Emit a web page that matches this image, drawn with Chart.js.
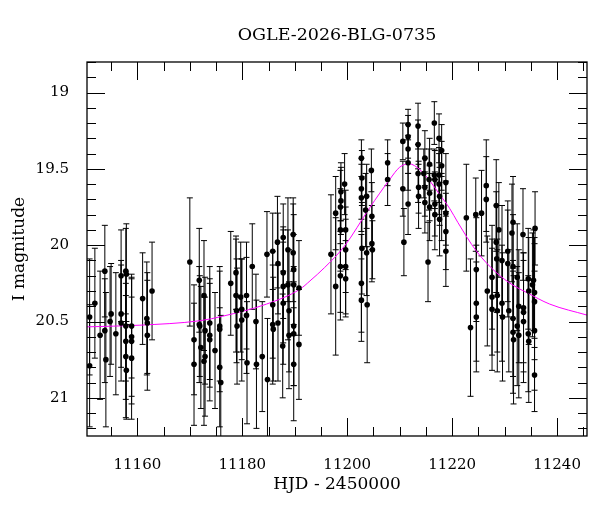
<!DOCTYPE html>
<html>
<head>
<meta charset="utf-8">
<script src="https://cdn.jsdelivr.net/npm/chart.js@4.4.1/dist/chart.umd.min.js"></script>
<style>
  body { margin: 0; background: #fff; }
  canvas { display: block; }
</style>
</head>
<body>
<canvas id="lightCurve" width="600" height="512"></canvas>
<script>
// photometry (HJD - 2450000, I mag, 1 sigma)
const hjd = [
    11150.9, 11150.9, 11151.9, 11152.9, 11153.8, 11153.8, 11154.0, 11154.8, 11155.0, 11155.9, 11156.9, 11156.9, 11156.9, 11157.8, 11157.9, 11157.8, 11157.8, 11157.8, 11157.9, 11158.9, 11158.9, 11158.9, 11158.9, 11161.0, 11161.8, 11161.9, 11161.9, 11162.8,
    11170.0, 11170.8, 11170.8, 11171.8, 11171.8, 11171.9, 11172.1, 11172.7, 11172.7, 11172.9, 11172.9, 11173.8, 11173.8, 11173.8, 11174.8, 11175.7, 11175.7, 11175.7, 11175.9, 11177.8, 11178.8, 11178.8, 11178.9, 11179.0, 11179.7, 11179.9, 11179.9, 11180.8, 11180.8, 11180.9, 11181.9, 11182.6, 11182.7, 11183.8, 11184.7, 11184.8, 11185.8, 11185.8, 11185.8, 11185.9, 11186.7, 11186.8, 11186.8, 11187.8, 11187.8, 11187.8, 11187.8, 11187.7, 11188.7, 11188.7, 11188.9, 11188.9, 11189.7, 11189.7, 11189.8, 11189.8, 11189.8, 11189.8, 11189.8, 11190.8, 11190.8,
    11196.9, 11197.8, 11197.8, 11198.8, 11198.8, 11198.7, 11198.7, 11198.7, 11198.7, 11199.5, 11199.7, 11199.7, 11199.7, 11199.7, 11202.7, 11202.8, 11202.7, 11202.7, 11203.7, 11203.5, 11202.8, 11203.7, 11202.7, 11202.7, 11203.8, 11204.6, 11204.7, 11204.7, 11204.8, 11207.7, 11207.7,
    11210.6, 11210.6, 11210.8, 11211.6, 11211.6, 11211.6, 11211.6, 11211.6, 11213.5, 11213.5, 11213.5, 11213.6, 11213.6, 11214.8, 11214.6, 11214.8, 11214.8, 11215.4, 11215.7, 11215.6, 11215.7, 11215.7, 11216.6, 11216.6, 11216.7, 11216.7, 11216.7, 11217.5, 11217.5, 11217.5, 11217.6, 11217.6,
    11218.0, 11218.0, 11218.0, 11218.8, 11218.8, 11218.8, 11218.8, 11222.7, 11224.5, 11225.6,
    11223.5, 11224.6, 11224.6, 11224.6, 11226.5, 11226.5, 11226.7, 11227.6, 11227.6, 11227.6, 11228.4, 11228.4, 11228.5, 11228.6, 11228.6, 11228.9, 11229.5, 11229.5, 11229.6, 11230.6, 11230.6, 11230.8, 11231.6, 11231.4, 11231.6, 11231.6, 11231.6, 11231.7, 11232.4, 11232.4, 11232.7, 11232.7, 11233.5, 11233.6, 11233.6, 11233.6, 11234.5, 11234.6, 11234.5, 11234.6, 11235.3, 11235.5, 11235.7, 11235.7, 11235.8, 11235.7, 11235.7
];
const mag = [
    20.47, 20.79, 20.38, 20.59, 20.17, 20.56, 20.75, 20.50, 20.45, 20.58, 20.20, 20.45, 20.51, 20.17, 20.19, 20.53, 20.63, 20.73, 20.82, 20.53, 20.60, 20.63, 20.74, 20.35, 20.48, 20.51, 20.59, 20.30,
    20.11, 20.62, 20.78, 20.23, 20.52, 20.53, 20.67, 20.33, 20.76, 20.56, 20.73, 20.51, 20.59, 20.62, 20.69, 20.53, 20.55, 20.80, 20.90, 20.25, 20.18, 20.33, 20.43, 20.53, 20.34, 20.42, 20.49, 20.33, 20.46, 20.77, 20.14, 20.50, 20.78, 20.73, 20.06, 20.88, 20.04, 20.39, 20.52, 20.55, 19.98, 20.12, 20.51, 19.95, 20.18, 20.27, 20.38, 20.66, 20.03, 20.26, 20.43, 20.59, 19.93, 20.05, 20.16, 20.26, 20.53, 20.58, 20.78, 20.28, 20.65,
    20.06, 19.79, 20.27, 19.65, 19.71, 19.75, 19.90, 20.14, 20.20, 19.60, 19.90, 20.03, 20.14, 20.22, 19.43, 19.56, 19.63, 19.69, 19.68, 19.77, 20.02, 20.05, 20.25, 20.36, 20.39, 19.51, 19.81, 19.99, 20.03, 19.46, 19.57,
    19.32, 19.63, 19.98, 19.21, 19.29, 19.37, 19.46, 19.73, 19.22, 19.34, 19.53, 19.62, 19.68, 19.43, 19.53, 19.62, 19.72, 20.11, 19.47, 19.57, 19.66, 19.75, 19.20, 19.54, 19.57, 19.73, 19.80, 19.30, 19.54, 19.60, 19.68, 19.83,
    19.38, 19.48, 19.75, 19.59, 19.79, 19.91, 20.04, 19.82, 19.80, 19.79,
    20.54, 20.16, 20.38, 20.47, 19.61, 19.70, 20.30, 20.21, 20.34, 20.42, 19.74, 19.98, 20.09, 20.33, 20.43, 19.90, 20.10, 20.38, 20.47, 20.04, 20.12, 20.43, 19.85, 19.92, 20.14, 20.48, 20.57, 20.62, 20.21, 20.53, 20.59, 20.40, 19.93, 20.41, 20.44, 20.50, 20.22, 20.30, 20.58, 20.63, 20.26, 20.23, 20.31, 20.37, 19.89, 20.56, 20.85
];
const magErr = [
    0.38, 0.40, 0.36, 0.42, 0.30, 0.34, 0.44, 0.36, 0.33, 0.40, 0.30, 0.35, 0.38, 0.28, 0.33, 0.36, 0.38, 0.40, 0.32, 0.34, 0.39, 0.41, 0.40, 0.30, 0.37, 0.33, 0.36, 0.32,
    0.42, 0.36, 0.40, 0.34, 0.38, 0.33, 0.40, 0.36, 0.42, 0.35, 0.39, 0.37, 0.34, 0.40, 0.38, 0.36, 0.41, 0.39, 0.44, 0.34, 0.24, 0.37, 0.34, 0.38, 0.36, 0.33, 0.40, 0.35, 0.38, 0.40, 0.28, 0.31, 0.42, 0.36, 0.28, 0.40, 0.25, 0.35, 0.39, 0.34, 0.30, 0.33, 0.38, 0.22, 0.30, 0.37, 0.40, 0.34, 0.34, 0.36, 0.40, 0.35, 0.24, 0.32, 0.36, 0.33, 0.39, 0.34, 0.37, 0.31, 0.36,
    0.39, 0.24, 0.45, 0.19, 0.22, 0.24, 0.27, 0.30, 0.29, 0.20, 0.26, 0.28, 0.31, 0.25, 0.12, 0.18, 0.20, 0.22, 0.21, 0.24, 0.30, 0.28, 0.32, 0.27, 0.38, 0.14, 0.22, 0.25, 0.19, 0.15, 0.17,
    0.12, 0.18, 0.22, 0.10, 0.14, 0.16, 0.18, 0.20, 0.15, 0.16, 0.19, 0.17, 0.21, 0.18, 0.16, 0.19, 0.20, 0.26, 0.17, 0.20, 0.18, 0.22, 0.14, 0.17, 0.19, 0.21, 0.23, 0.16, 0.18, 0.20, 0.19, 0.24,
    0.17, 0.16, 0.22, 0.19, 0.21, 0.25, 0.23, 0.35, 0.24, 0.28,
    0.45, 0.34, 0.38, 0.36, 0.30, 0.28, 0.36, 0.34, 0.38, 0.40, 0.30, 0.33, 0.35, 0.37, 0.40, 0.31, 0.36, 0.38, 0.42, 0.33, 0.35, 0.40, 0.30, 0.32, 0.34, 0.38, 0.40, 0.42, 0.35, 0.39, 0.41, 0.37, 0.30, 0.36, 0.39, 0.40, 0.33, 0.35, 0.38, 0.40, 0.34, 0.33, 0.36, 0.38, 0.24, 0.39, 0.24
];

// model light curve (magenta), sampled from the plot
const modelHjd = [11150.4, 11160.5, 11171.9, 11176.3, 11184.6, 11191.0, 11192.9, 11195.7, 11199.5, 11204.3, 11208.1, 11210.0, 11211.8, 11213.8, 11215.7, 11217.6, 11219.5, 11221.1, 11224.6, 11228.4, 11231.6, 11234.2, 11238.6, 11245.7];
const modelMag = [20.535, 20.524, 20.495, 20.465, 20.386, 20.288, 20.234, 20.146, 20.005, 19.754, 19.569, 19.489, 19.467, 19.504, 19.577, 19.667, 19.758, 19.852, 20.038, 20.179, 20.262, 20.31, 20.386, 20.458];

const xTicks = [11160, 11180, 11200, 11220, 11240];
const yTicks = [19, 19.5, 20, 20.5, 21];

const FONT = "'DejaVu Serif', 'Liberation Serif', serif";

function toPoints(xs, ys) {
    return xs.map((v, i) => ({ x: v, y: ys[i] }));
}

// vertical error bars with little caps, drawn under the dots
const errorBars = {
    id: 'errorBars',
    beforeDatasetsDraw(chart) {
        const { ctx, chartArea, scales: { x, y } } = chart;
        ctx.save();
        ctx.beginPath();
        ctx.rect(chartArea.left, chartArea.top, chartArea.width, chartArea.height);
        ctx.clip();
        ctx.strokeStyle = '#000';
        ctx.lineWidth = 1;
        ctx.beginPath();
        for (let i = 0; i < hjd.length; i++) {
            const px = x.getPixelForValue(hjd[i]);
            const top = y.getPixelForValue(mag[i] - magErr[i]);
            const bot = y.getPixelForValue(mag[i] + magErr[i]);
            ctx.moveTo(px, top);
            ctx.lineTo(px, bot);
            ctx.moveTo(px - 3, top);
            ctx.lineTo(px + 3, top);
            ctx.moveTo(px - 3, bot);
            ctx.lineTo(px + 3, bot);
        }
        ctx.stroke();
        ctx.restore();
    }
};

// box frame with inward ticks on all four sides
const frameTicks = {
    id: 'frameTicks',
    afterDraw(chart) {
        const { ctx, chartArea: a, scales: { x, y } } = chart;
        ctx.save();
        ctx.strokeStyle = '#000';
        ctx.lineWidth = 1;
        ctx.beginPath();
        for (let v = Math.ceil(x.min / 5) * 5; v <= x.max; v += 5) {
            const len = xTicks.includes(v) ? 18 : 9;
            const px = Math.round(x.getPixelForValue(v)) + 0.5;
            ctx.moveTo(px, a.bottom);
            ctx.lineTo(px, a.bottom - len);
            ctx.moveTo(px, a.top);
            ctx.lineTo(px, a.top + len);
        }
        for (let k = Math.ceil(y.min * 10); k <= Math.floor(y.max * 10); k++) {
            const v = k / 10;
            const len = yTicks.includes(v) ? 18 : 9;
            const py = Math.round(y.getPixelForValue(v)) + 0.5;
            ctx.moveTo(a.left, py);
            ctx.lineTo(a.left + len, py);
            ctx.moveTo(a.right, py);
            ctx.lineTo(a.right - len, py);
        }
        ctx.stroke();
        ctx.lineWidth = 1.3;
        ctx.strokeRect(a.left, a.top, a.right - a.left, a.bottom - a.top);
        ctx.restore();
    }
};

const ctx = document.getElementById('lightCurve').getContext('2d');
const lightCurve = new Chart(ctx, {
    type: 'scatter',
    data: {
        datasets: [{
            type: 'line',
            data: toPoints(modelHjd, modelMag),
            borderColor: '#ff00ff',
            borderWidth: 1,
            pointRadius: 0,
            fill: false,
            cubicInterpolationMode: 'monotone',
            order: 2
        }, {
            data: toPoints(hjd, mag),
            backgroundColor: '#000',
            borderColor: '#000',
            borderWidth: 0,
            pointRadius: 2.8,
            order: 1
        }]
    },
    options: {
        responsive: false,
        animation: false,
        devicePixelRatio: 1,
        layout: { padding: { left: 0, right: 13, top: 0, bottom: 0 } },
        plugins: {
            legend: { display: false },
            tooltip: { enabled: false },
            title: {
                display: true,
                text: 'OGLE-2026-BLG-0735',
                color: '#000',
                fullSize: false,
                font: { family: FONT, size: 17.5, weight: 'normal', lineHeight: 1.2 },
                padding: { top: 25, bottom: 16 }
            }
        },
        scales: {
            x: {
                type: 'linear',
                min: 11150.4,
                max: 11245.7,
                grid: { display: false },
                border: { display: false },
                afterBuildTicks: s => { s.ticks = xTicks.map(v => ({ value: v })); },
                afterFit: s => { s.height = 76; },
                ticks: {
                    color: '#000',
                    padding: 12,
                    maxRotation: 0,
                    font: { family: FONT, size: 15 },
                    callback: v => String(v)
                },
                title: {
                    display: true,
                    text: 'HJD - 2450000',
                    color: '#000',
                    font: { family: FONT, size: 17, lineHeight: 1.2 },
                    padding: { top: 0, bottom: 17 }
                }
            },
            y: {
                type: 'linear',
                reverse: true,
                min: 18.8,
                max: 21.25,
                grid: { display: false },
                border: { display: false },
                afterBuildTicks: s => { s.ticks = yTicks.map(v => ({ value: v })); },
                afterFit: s => { s.width = 87; },
                ticks: {
                    color: '#000',
                    padding: 10,
                    font: { family: FONT, size: 15 },
                    callback: v => String(v)
                },
                title: {
                    display: true,
                    text: 'I magnitude',
                    color: '#000',
                    font: { family: FONT, size: 17, lineHeight: 1.2 },
                    padding: { top: 9, bottom: 0 }
                }
            }
        }
    },
    plugins: [errorBars, frameTicks]
});
</script>
</body>
</html>
